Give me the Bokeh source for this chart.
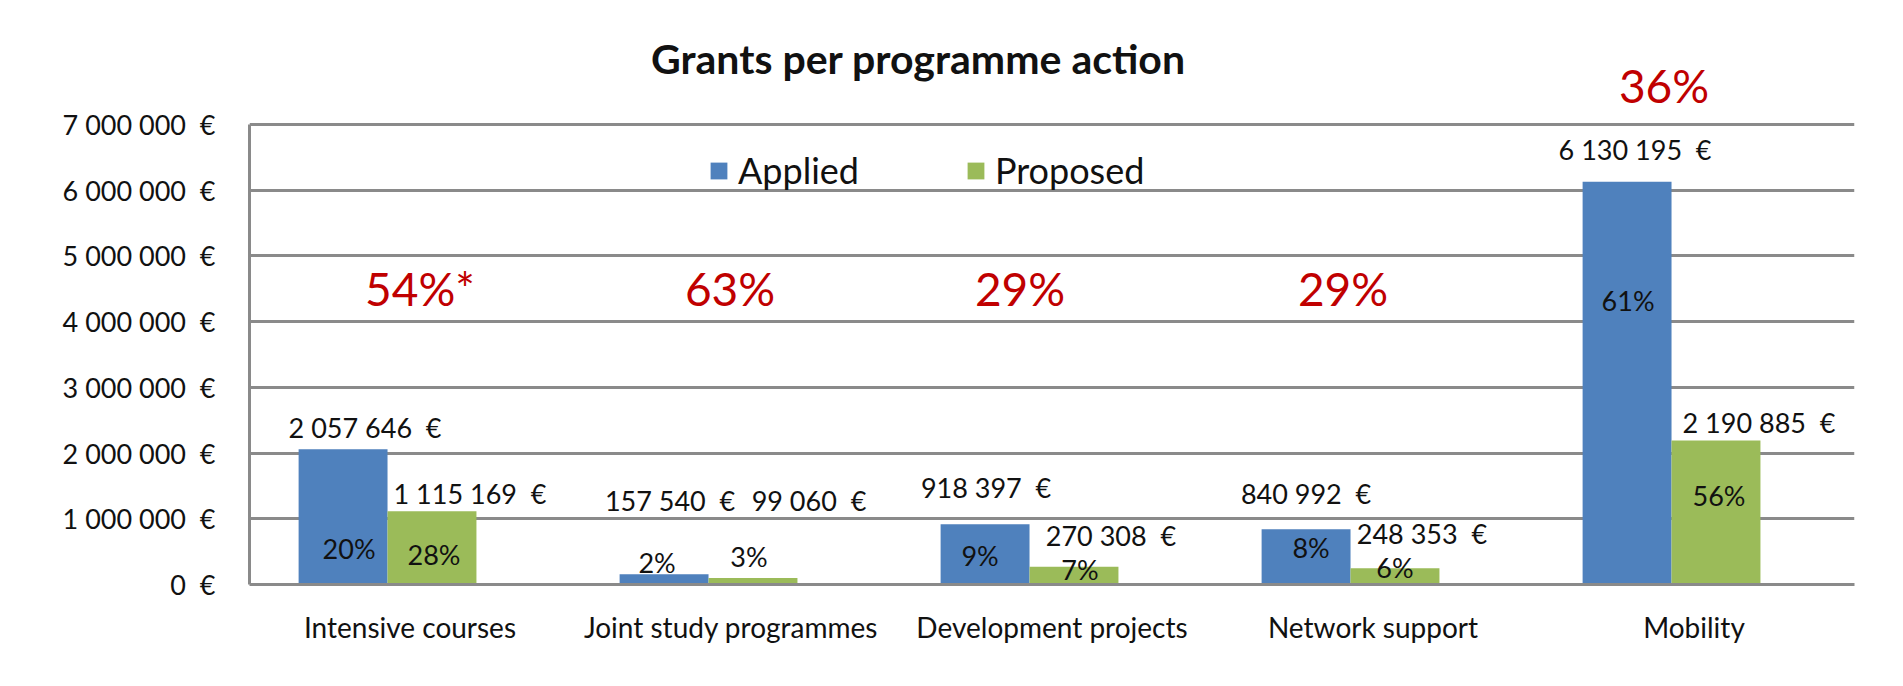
from bokeh.plotting import figure
from bokeh.models import (ColumnDataSource, FactorRange, Range1d, FixedTicker,
                          LabelSet, Label, Legend, LegendItem)
from bokeh.transform import dodge
from bokeh.core.properties import value
from bokeh.embed import file_html
from bokeh.resources import INLINE

NB = "\u00a0"

# ---------------- data ----------------
categories = ["Intensive courses", "Joint study programmes", "Development projects",
              "Network support", "Mobility"]
applied = [2057646, 157540, 918397, 840992, 6130195]
proposed = [1115169, 99060, 270308, 248353, 2190885]
applied_share = ["20%", "2%", "9%", "8%", "61%"]
proposed_share = ["28%", "3%", "7%", "6%", "56%"]
success_rate = ["54%*", "63%", "29%", "29%", "36%"]
y_ticks = [0, 1000000, 2000000, 3000000, 4000000, 5000000, 6000000, 7000000]
y_tick_labels = ["0  €", "1 000 000  €", "2 000 000  €", "3 000 000  €",
                 "4 000 000  €", "5 000 000  €", "6 000 000  €", "7 000 000  €"]
title_text = "Grants per programme action"


def euro(v):
    return (f"{v:,}".replace(",", " ") + "  €").replace(" ", NB)


# ---------------- label placement (pixels) ----------------
applied_lbl_dx = [22, 6, 1, 0, 8]
applied_lbl_dy = [22, 74, 37, 36, 32]
proposed_lbl_dx = [38, 56, 37, 27, 43]
proposed_lbl_dy = [18, 77, 31, 35, 18]
applied_share_dx = [6, -7, -5, 5, 1]
applied_share_up = [36, 22, 29, 37, 284]
proposed_share_dx = [2, -4, 6, 0, 3]
proposed_share_up = [30, 28, 15, 17, 89]
rate_dx = [10, -1, -32, -30, -30]
rate_up = [296, 296, 296, 296, 499]

BLUE = "#4F81BD"
GREEN = "#9BBB59"
GRID = "#8A8A8A"
RED = "#C00000"
FONT = "Lato"
BAR_W = 0.277
A_OFF = -0.2085
P_OFF = 0.0685

Y_MAX = 7000000
FRAME_H = 584
PX_PER_UNIT = 460 / Y_MAX
Y_TOP = FRAME_H / PX_PER_UNIT   # room above the value axis for title / top label

src = ColumnDataSource(dict(
    cat=categories, applied=applied, proposed=proposed,
    applied_txt=[euro(v) for v in applied], proposed_txt=[euro(v) for v in proposed],
    applied_share=applied_share, proposed_share=proposed_share, rate=success_rate,
    zero=[0] * len(categories),
    a_dx=applied_lbl_dx, a_dy=applied_lbl_dy, p_dx=proposed_lbl_dx, p_dy=proposed_lbl_dy,
    as_dx=applied_share_dx, as_up=applied_share_up,
    ps_dx=proposed_share_dx, ps_up=proposed_share_up,
    r_dx=rate_dx, r_up=rate_up,
))

p = figure(x_range=FactorRange(factors=categories, range_padding=0),
           y_range=Range1d(0, Y_TOP),
           frame_width=1605, frame_height=FRAME_H,
           min_border_left=249, min_border_right=40,
           min_border_top=0, min_border_bottom=86,
           output_backend="svg", toolbar_location=None, title=None)
p.outline_line_color = None
p.background_fill_color = "white"
p.border_fill_color = "white"

rA = p.vbar(x=dodge("cat", A_OFF, range=p.x_range), top="applied", width=BAR_W,
            source=src, fill_color=BLUE, line_color=None)
rP = p.vbar(x=dodge("cat", P_OFF, range=p.x_range), top="proposed", width=BAR_W,
            source=src, fill_color=GREEN, line_color=None)

# axes
p.xgrid.grid_line_color = None
p.ygrid.ticker = FixedTicker(ticks=y_ticks)
p.ygrid.grid_line_color = GRID
p.ygrid.grid_line_width = 3

p.yaxis.ticker = FixedTicker(ticks=y_ticks)
p.yaxis.bounds = (0, Y_MAX)
p.yaxis.major_label_overrides = {t: s.replace(" ", NB) for t, s in zip(y_ticks, y_tick_labels)}
for ax in (p.xaxis[0], p.yaxis[0]):
    ax.axis_line_color = GRID
    ax.axis_line_width = 3
    ax.major_tick_line_color = None
    ax.minor_tick_line_color = None
    ax.major_label_text_font = FONT
    ax.major_label_text_font_size = "28px"
    ax.major_label_text_color = "#111111"
p.yaxis.major_label_text_font_size = "27px"
p.yaxis.major_label_standoff = 28
p.xaxis.major_label_standoff = 19

# value labels
common = dict(source=src, text_font=value(FONT), text_font_size="27px",
              text_color="#111111", text_align="center", text_baseline="middle")
p.add_layout(LabelSet(x=dodge("cat", A_OFF, range=p.x_range), y="applied", text="applied_txt",
                      x_offset="a_dx", y_offset="a_dy", **common))
p.add_layout(LabelSet(x=dodge("cat", P_OFF, range=p.x_range), y="proposed", text="proposed_txt",
                      x_offset="p_dx", y_offset="p_dy", **common))
p.add_layout(LabelSet(x=dodge("cat", A_OFF, range=p.x_range), y="zero", text="applied_share",
                      x_offset="as_dx", y_offset="as_up", **common))
p.add_layout(LabelSet(x=dodge("cat", P_OFF, range=p.x_range), y="zero", text="proposed_share",
                      x_offset="ps_dx", y_offset="ps_up", **common))
p.add_layout(LabelSet(x="cat", y="zero", text="rate", x_offset="r_dx", y_offset="r_up",
                      source=src, text_font=value(FONT), text_font_size="46px",
                      text_color=RED, text_align="center", text_baseline="middle"))

# title (inside the extended frame, above the value axis)
p.add_layout(Label(x=2.084, y=Y_MAX, y_offset=66, text=title_text, text_font=FONT,
                   text_font_size="41px", text_font_style="bold", text_color="#111111",
                   text_align="center", text_baseline="middle"))

# legend
legend = Legend(items=[LegendItem(label="Applied", renderers=[rA]),
                       LegendItem(label="Proposed", renderers=[rP])],
                orientation="horizontal", location=(459, 392),
                glyph_width=21, glyph_height=21, label_standoff=9, spacing=106,
                padding=0, margin=0, border_line_color=None, background_fill_alpha=0,
                label_text_font=FONT, label_text_font_size="36px",
                label_text_color="#111111")
p.add_layout(legend)

open("out.html", "w").write(file_html(p, INLINE))
